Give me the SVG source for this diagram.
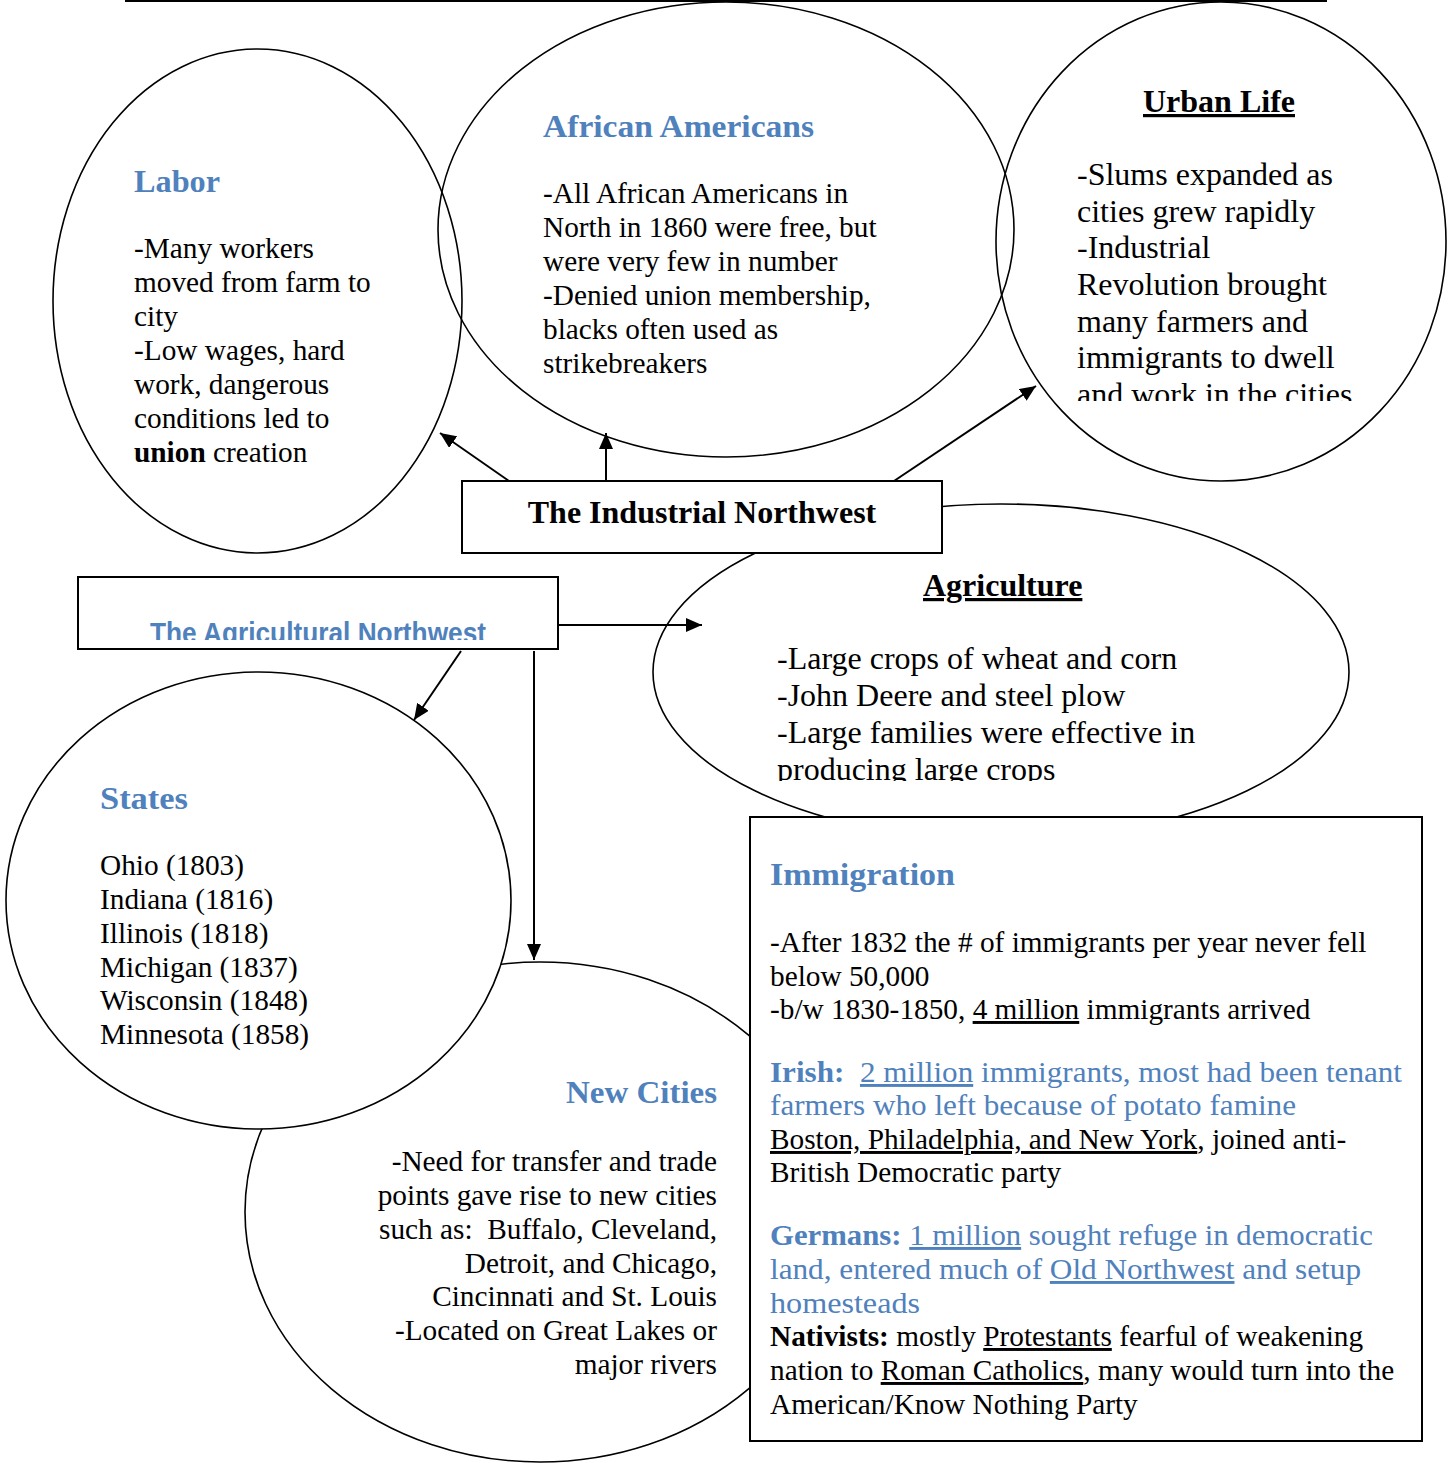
<svg xmlns="http://www.w3.org/2000/svg" width="1452" height="1463" viewBox="0 0 1452 1463">
<style>
.bg{fill:#ffffff}
.ell{fill:none;stroke:#000;stroke-width:1.6}
.ellw{fill:#ffffff;stroke:#000;stroke-width:1.6}
.box{fill:#ffffff;stroke:#000;stroke-width:2}
.body{font-family:"Liberation Serif","Times New Roman",serif;font-size:29.3px;fill:#000}
.body32{font-family:"Liberation Serif","Times New Roman",serif;font-size:32px;fill:#000}
.head{font-family:"Liberation Serif","Times New Roman",serif;font-size:31px;font-weight:bold;fill:#4F81BD}
.blk{font-family:"Liberation Serif","Times New Roman",serif;font-size:32px;font-weight:bold;fill:#000}
.blue{font-family:"Liberation Serif","Times New Roman",serif;font-size:29px;fill:#4F81BD}
.sans{font-family:"Liberation Sans",Arial,sans-serif;font-size:29px;font-weight:bold;fill:#4F81BD}
.b{font-weight:bold}
.u{text-decoration:underline}
.end{text-anchor:end}
.conn{fill:none;stroke:#000;stroke-width:2}
</style>
<defs>
<marker id="arr" markerUnits="userSpaceOnUse" markerWidth="17" markerHeight="14" refX="16" refY="7" orient="auto">
<path d="M0,0 L16,7 L0,14 z" fill="#000"/>
</marker>
<clipPath id="clipUrban"><rect x="990" y="0" width="460" height="401"/></clipPath>
<clipPath id="clipAgri"><rect x="650" y="500" width="710" height="281"/></clipPath>
<clipPath id="clipAgNW"><rect x="79" y="578" width="478" height="62"/></clipPath>
</defs>
<rect class="bg" x="0" y="0" width="1452" height="1463"/>
<line x1="125" y1="1" x2="1327" y2="1" stroke="#000" stroke-width="2"/>

<g id="new-cities">
<ellipse class="ellw" cx="540" cy="1212" rx="295" ry="250"/>
<text class="head end" x="717" y="1103" textLength="151" lengthAdjust="spacingAndGlyphs">New Cities</text>
<text class="body end" x="717" y="1171">-Need for transfer and trade</text>
<text class="body end" x="717" y="1205">points gave rise to new cities</text>
<text class="body end" x="717" y="1239" xml:space="preserve">such as:  Buffalo, Cleveland,</text>
<text class="body end" x="717" y="1273">Detroit, and Chicago,</text>
<text class="body end" x="717" y="1306">Cincinnati and St. Louis</text>
<text class="body end" x="717" y="1340">-Located on Great Lakes or</text>
<text class="body end" x="717" y="1374">major rivers</text>
</g>

<g id="states">
<ellipse class="ellw" cx="258.5" cy="900.5" rx="252.5" ry="228.5"/>
<text class="head" x="100" y="809" textLength="88" lengthAdjust="spacingAndGlyphs">States</text>
<text class="body" x="100" y="875">Ohio (1803)</text>
<text class="body" x="100" y="909">Indiana (1816)</text>
<text class="body" x="100" y="943">Illinois (1818)</text>
<text class="body" x="100" y="977">Michigan (1837)</text>
<text class="body" x="100" y="1010">Wisconsin (1848)</text>
<text class="body" x="100" y="1044">Minnesota (1858)</text>
</g>

<g id="agriculture">
<ellipse class="ell" cx="1001" cy="672" rx="348" ry="168"/>
<text class="blk u" x="923" y="596">Agriculture</text>
<g clip-path="url(#clipAgri)">
<text class="body32" x="777" y="669">-Large crops of wheat and corn</text>
<text class="body32" x="777" y="706">-John Deere and steel plow</text>
<text class="body32" x="777" y="743">-Large families were effective in</text>
<text class="body32" x="777" y="780">producing large crops</text>
</g>
</g>

<g id="labor">
<ellipse class="ell" cx="257.5" cy="301" rx="204.5" ry="252"/>
<text class="head" x="134" y="192" textLength="86" lengthAdjust="spacingAndGlyphs">Labor</text>
<text class="body" x="134" y="258">-Many workers</text>
<text class="body" x="134" y="292">moved from farm to</text>
<text class="body" x="134" y="326">city</text>
<text class="body" x="134" y="360">-Low wages, hard</text>
<text class="body" x="134" y="394">work, dangerous</text>
<text class="body" x="134" y="428">conditions led to</text>
<text class="body" x="134" y="462"><tspan class="b">union</tspan> creation</text>
</g>

<g id="african-americans">
<ellipse class="ell" cx="726" cy="229.5" rx="288" ry="227.5"/>
<text class="head" x="543" y="137" textLength="271" lengthAdjust="spacingAndGlyphs">African Americans</text>
<text class="body" x="543" y="203">-All African Americans in</text>
<text class="body" x="543" y="237">North in 1860 were free, but</text>
<text class="body" x="543" y="271">were very few in number</text>
<text class="body" x="543" y="305">-Denied union membership,</text>
<text class="body" x="543" y="339">blacks often used as</text>
<text class="body" x="543" y="373">strikebreakers</text>
</g>

<g id="urban-life">
<ellipse class="ell" cx="1221" cy="241.5" rx="225" ry="239.5"/>
<text class="blk u" x="1143" y="112">Urban Life</text>
<g clip-path="url(#clipUrban)">
<text class="body32" x="1077" y="185">-Slums expanded as</text>
<text class="body32" x="1077" y="222">cities grew rapidly</text>
<text class="body32" x="1077" y="258">-Industrial</text>
<text class="body32" x="1077" y="295">Revolution brought</text>
<text class="body32" x="1077" y="332">many farmers and</text>
<text class="body32" x="1077" y="368">immigrants to dwell</text>
<text class="body32" x="1077" y="405">and work in the cities</text>
</g>
</g>

<g id="industrial-northwest">
<rect class="box" x="462" y="481" width="480" height="72"/>
<text class="blk" x="702" y="523" text-anchor="middle">The Industrial Northwest</text>
</g>

<g id="agricultural-northwest">
<rect class="box" x="78" y="577" width="480" height="72"/>
<g clip-path="url(#clipAgNW)">
<text class="sans" x="150" y="643" textLength="336" lengthAdjust="spacingAndGlyphs">The Agricultural Northwest</text>
</g>
</g>

<g id="immigration">
<rect class="box" x="750" y="817" width="672" height="624"/>
<text class="head" x="770" y="885" textLength="185" lengthAdjust="spacingAndGlyphs">Immigration</text>
<text class="body" x="770" y="952">-After 1832 the # of immigrants per year never fell</text>
<text class="body" x="770" y="986">below 50,000</text>
<text class="body" x="770" y="1019">-b/w 1830-1850, <tspan class="u">4 million</tspan> immigrants arrived</text>
<text class="blue" x="770" y="1082" textLength="632" lengthAdjust="spacingAndGlyphs" xml:space="preserve"><tspan class="b">Irish:</tspan>  <tspan class="u">2 million</tspan> immigrants, most had been tenant</text>
<text class="blue" x="770" y="1115" textLength="526" lengthAdjust="spacingAndGlyphs">farmers who left because of potato famine</text>
<text class="body" x="770" y="1149"><tspan class="u">Boston, Philadelphia, and New York</tspan>, joined anti-</text>
<text class="body" x="770" y="1182">British Democratic party</text>
<text class="blue" x="770" y="1245" textLength="603" lengthAdjust="spacingAndGlyphs"><tspan class="b">Germans:</tspan> <tspan class="u">1 million</tspan> sought refuge in democratic</text>
<text class="blue" x="770" y="1279" textLength="591" lengthAdjust="spacingAndGlyphs">land, entered much of <tspan class="u">Old Northwest</tspan> and setup</text>
<text class="blue" x="770" y="1313" textLength="150" lengthAdjust="spacingAndGlyphs">homesteads</text>
<text class="body" x="770" y="1346"><tspan class="b">Nativists:</tspan> mostly <tspan class="u">Protestants</tspan> fearful of weakening</text>
<text class="body" x="770" y="1380">nation to <tspan class="u">Roman Catholics</tspan>, many would turn into the</text>
<text class="body" x="770" y="1414">American/Know Nothing Party</text>
</g>

<g id="connectors">
<line class="conn" x1="509" y1="481" x2="440" y2="433" marker-end="url(#arr)"/>
<line class="conn" x1="606" y1="481" x2="606" y2="433" marker-end="url(#arr)"/>
<line class="conn" x1="894" y1="481" x2="1036" y2="386" marker-end="url(#arr)"/>
<line class="conn" x1="558" y1="625" x2="702" y2="625" marker-end="url(#arr)"/>
<line class="conn" x1="461" y1="651" x2="414" y2="720" marker-end="url(#arr)"/>
<line class="conn" x1="534" y1="651" x2="534" y2="960" marker-end="url(#arr)"/>
</g>
</svg>
